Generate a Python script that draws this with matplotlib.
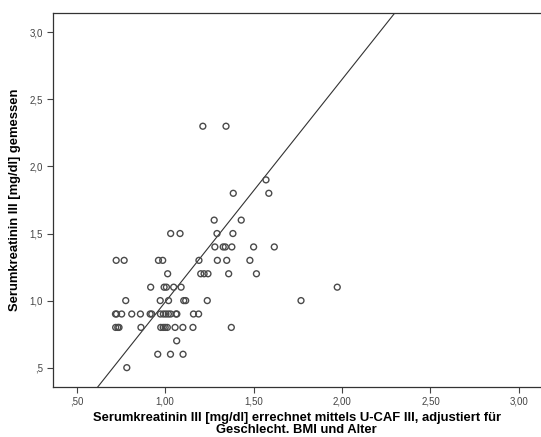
import numpy as np
import matplotlib.pyplot as plt

plt.rcParams['font.family'] = ['Liberation Sans', 'DejaVu Sans']

x_vals = [
    1.213, 1.344,                                           # 2.3
    1.570,                                                  # 1.9
    1.385, 1.586,                                           # 1.8
    1.277, 1.430,                                           # 1.6
    1.031, 1.084, 1.293, 1.383,                             # 1.5
    1.281, 1.328, 1.340, 1.377, 1.500, 1.617,               # 1.4
    0.723, 0.768, 0.962, 0.986, 1.191, 1.295, 1.348, 1.479, # 1.3
    1.014, 1.201, 1.220, 1.242, 1.359, 1.516,               # 1.2
    0.918, 0.994, 1.007, 1.048, 1.090, 1.973,               # 1.1
    0.777, 0.972, 1.019, 1.105, 1.116, 1.238, 1.768,        # 1.0
    0.719, 0.725, 0.754, 0.811, 0.860, 0.915, 0.924, 0.973,
    0.990, 1.004, 1.018, 1.031, 1.061, 1.066, 1.160, 1.189, # 0.9
    0.720, 0.732, 0.739, 0.863, 0.975, 0.989, 1.000, 1.012,
    1.056, 1.100, 1.157, 1.374,                             # 0.8
    1.065,                                                  # 0.7
    0.958, 1.030, 1.101,                                    # 0.6
    0.783,                                                  # 0.5
]
y_vals = ([2.3] * 2 + [1.9] + [1.8] * 2 + [1.6] * 2 + [1.5] * 4 + [1.4] * 6
          + [1.3] * 8 + [1.2] * 6 + [1.1] * 6 + [1.0] * 7 + [0.9] * 16
          + [0.8] * 12 + [0.7] + [0.6] * 3 + [0.5])

# fit line shown in the chart
fit_slope = 1.66
fit_intercept = -0.671

x_ticks = [0.5, 1.0, 1.5, 2.0, 2.5, 3.0]
x_ticklabels = [',50', '1,00', '1,50', '2,00', '2,50', '3,00']
y_ticks = [0.5, 1.0, 1.5, 2.0, 2.5, 3.0]
y_ticklabels = [',5', '1,0', '1,5', '2,0', '2,5', '3,0']

fig = plt.figure(figsize=(5.41, 4.37), dpi=100)
ax = fig.add_axes([0.0974, 0.1151, 0.9026, 0.8545])

ax.scatter(x_vals, y_vals, s=18, facecolors='none', edgecolors='#4a4a4a', linewidths=1.0, zorder=3)

xl = np.array([0.36, 3.13])
ax.plot(xl, fit_intercept + fit_slope * xl, color='#333333', linewidth=0.8, zorder=2)

ax.set_xlim(0.364, 3.125)
ax.set_ylim(0.358, 3.142)
ax.set_xticks(x_ticks)
ax.set_xticklabels(x_ticklabels)
ax.set_yticks(y_ticks)
ax.set_yticklabels(y_ticklabels)
ax.tick_params(colors='#444444', length=4, width=0.8, pad=3)
for lab in ax.get_xticklabels() + ax.get_yticklabels():
    lab.set_family(['Liberation Sans Narrow', 'Liberation Sans'])
    lab.set_fontsize(7)

for side in ['left', 'bottom', 'top']:
    ax.spines[side].set_color('#333333')
    ax.spines[side].set_linewidth(0.9)
ax.spines['right'].set_visible(False)

ax.set_xlabel('Serumkreatinin III [mg/dl] errechnet mittels U-CAF III, adjustiert für\nGeschlecht. BMI und Alter',
              fontsize=9.4, fontweight='bold', linespacing=1.05, labelpad=4)
ax.set_ylabel('Serumkreatinin III [mg/dl] gemessen', fontsize=9.4, fontweight='bold', labelpad=6)

fig.savefig('out.png', dpi=100)
